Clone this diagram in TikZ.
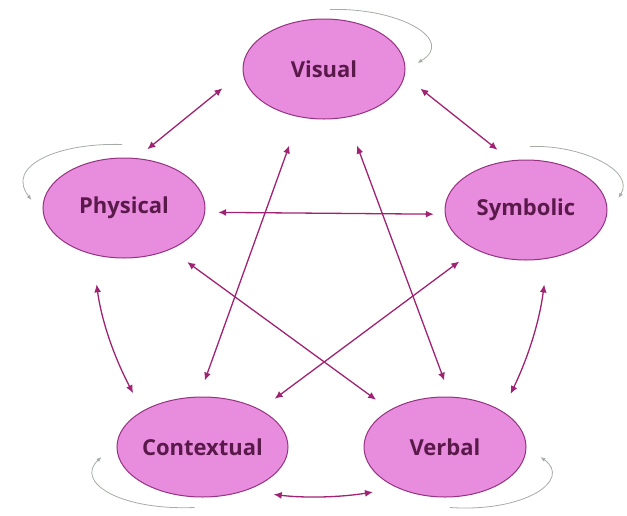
\documentclass[tikz,border=0pt]{standalone}
\usepackage{fontspec}
\setmainfont{Open Sans}
\usepackage{xcolor}
\usepackage{tikz}
\usetikzlibrary{arrows.meta,shapes.geometric}

\definecolor{ovalfill}{RGB}{232,140,221}
\definecolor{ovaledge}{RGB}{150,50,130}
\definecolor{ovaltext}{RGB}{90,25,75}
\definecolor{linkcol}{RGB}{160,35,115}
\definecolor{loopcol}{RGB}{165,172,165}

\begin{document}
\begin{tikzpicture}[x=1pt,y=1pt,
  mode/.style={ellipse,draw=ovaledge,line width=1pt,fill=ovalfill,
    minimum width=162pt,minimum height=100pt,inner sep=0pt,
    text=ovaltext,font=\fontsize{22}{22}\selectfont\bfseries},
  link/.style={{Latex[length=8pt,width=7pt]}-{Latex[length=8pt,width=7pt]},
    linkcol,line width=1.3pt},
  selfloop/.style={-{Latex[length=5pt,width=4pt]},loopcol,line width=0.8pt}]

\useasboundingbox (0,0) rectangle (627,-515);

% The five modes
\node[mode] (vis) at (324,-69) {Visual};
\node[mode] (phy) at (124,-208) {Physical};
\node[mode] (sym) at (526,-210) {Symbolic};
\node[mode] (con) at (202.5,-447) {Contextual};
\node[mode] (ver) at (445,-447) {Verbal};

% Outer ring
\draw[link,shorten <=26pt,shorten >=14pt] (vis.182) -- (phy.76);
\draw[link,shorten <=20pt,shorten >=17pt] (vis.355) -- (sym.107);
\draw[link,shorten <=30pt,shorten >=20pt] (phy.236) to[bend right=10] (con.149);
\draw[link,shorten <=26pt,shorten >=19pt] (sym.294) to[bend left=9] (ver.32);
\draw[link,shorten <=29pt,shorten >=25pt] (con.314) to[bend right=8] (ver.221);

% Inner star
\draw[link,shorten <=13pt,shorten >=11pt] (phy.357) -- (sym.183);
\draw[link,shorten <=30pt,shorten >=17pt] (vis.243) -- (con.94);
\draw[link,shorten <=30pt,shorten >=17pt] (vis.295) -- (ver.84);
\draw[link,shorten <=21pt,shorten >=17pt] (phy.318) -- (ver.146);
\draw[link,shorten <=20pt,shorten >=18pt] (sym.218) -- (con.33);

% Self loops
\draw[selfloop] ([shift={(6,9)}]vis.north) .. controls +(70,2) and +(38,23) .. ([shift={(12,6)}]vis.east);
\draw[selfloop] ([shift={(-2,13)}]phy.north) .. controls +(-62,2) and +(-27,35) .. ([shift={(-11,8)}]phy.west);
\draw[selfloop] ([shift={(4,13)}]sym.north) .. controls +(50,2) and +(17,28) .. ([shift={(11,12)}]sym.east);
\draw[selfloop] ([shift={(-8,-10)}]con.south) .. controls +(-75,-3) and +(-27,-25) .. ([shift={(-15,-10)}]con.west);
\draw[selfloop] ([shift={(5,-10)}]ver.south) .. controls +(75,-5) and +(32,-23) .. ([shift={(14,-10)}]ver.east);

\end{tikzpicture}
\end{document}
